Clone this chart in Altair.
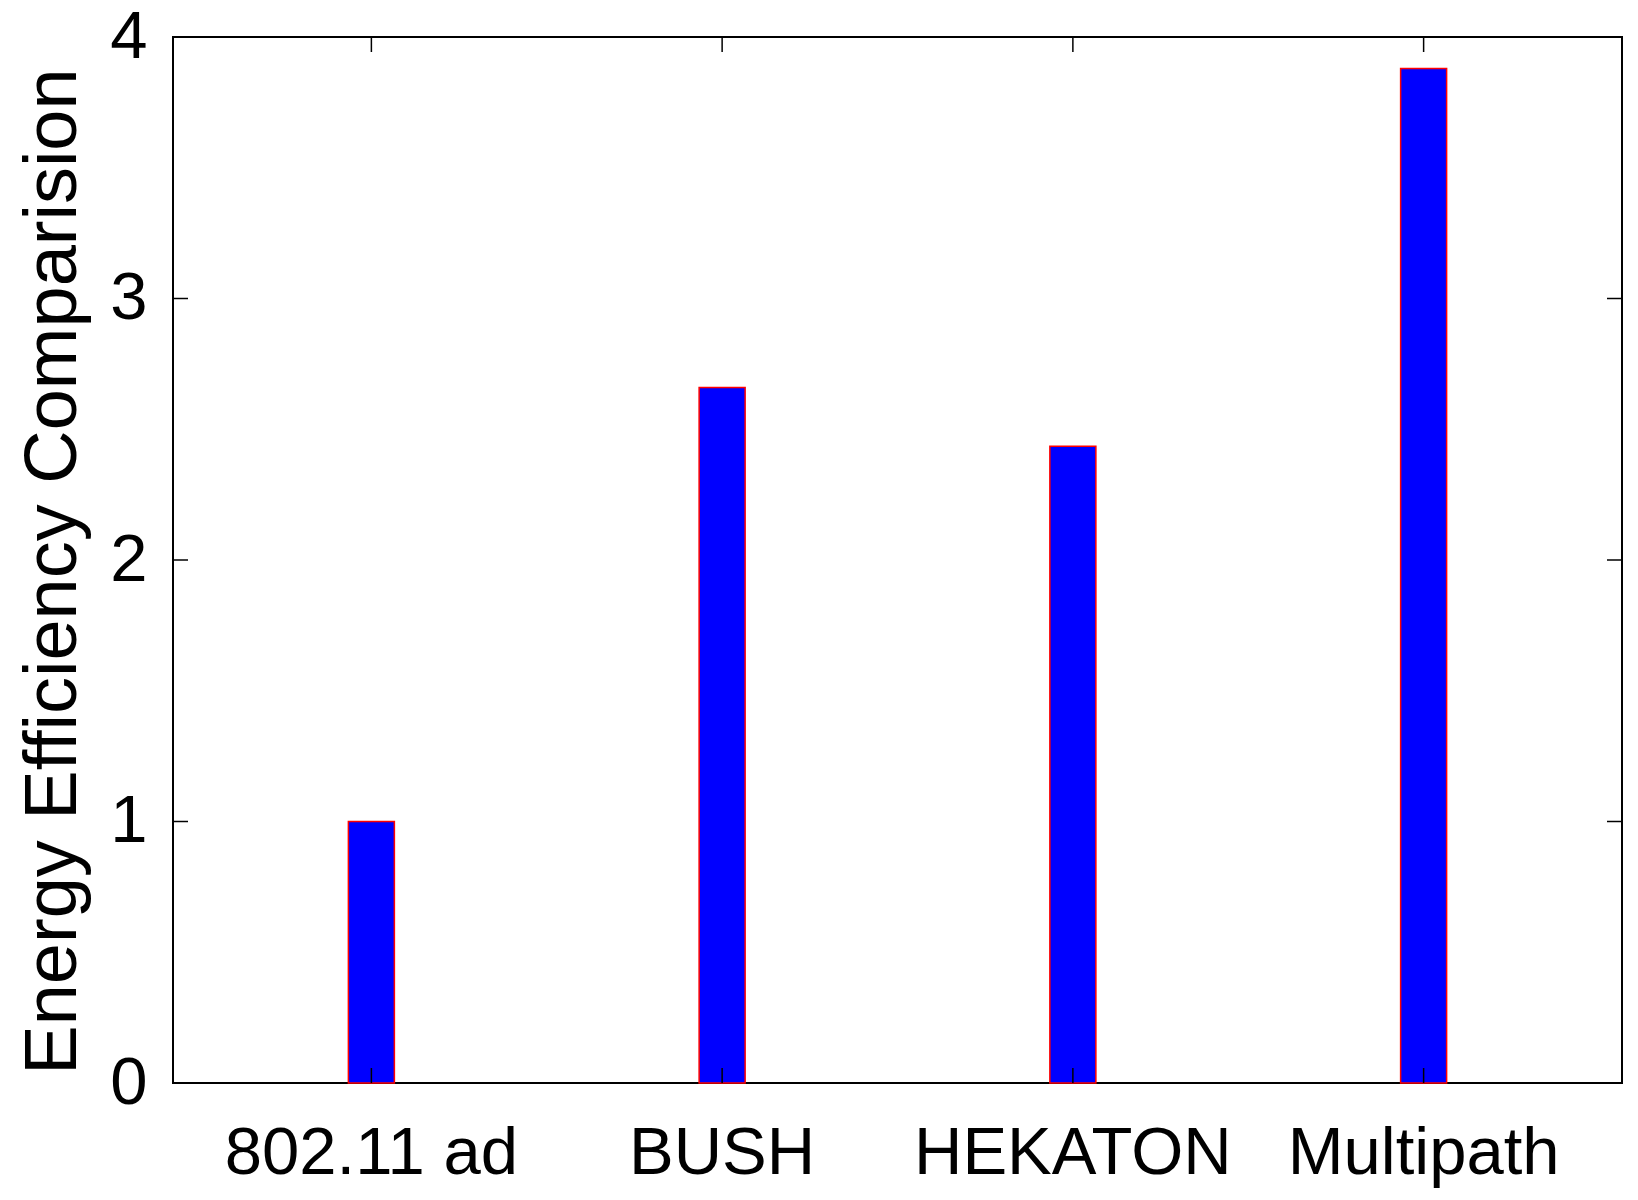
import altair as alt
import pandas as pd

categories = ["802.11 ad", "BUSH", "HEKATON", "Multipath"]
values = [1.0, 2.66, 2.435, 3.88]
y_ticks = [0, 1, 2, 3, 4]

df = pd.DataFrame({"cat": categories, "value": values})
tick_df = pd.DataFrame({"value": y_ticks})

FONT = "Liberation Sans"
W, H = 1449, 1046

xscale = alt.Scale(domain=categories, paddingInner=0.8688, paddingOuter=0.5)
yscale = alt.Scale(domain=[0, 4], nice=False, zero=True)

x_axis = alt.Axis(title=None, labelAngle=0, ticks=False, tickSize=0,
                  domain=False, grid=False, labelFont=FONT,
                  labelFontSize=67, labelColor="black", labelLimit=1000,
                  labelOverlap=False,
                  labelPadding=90, labelBaseline="alphabetic")
y_axis = alt.Axis(title="Energy Efficiency Comparision", values=y_ticks,
                  ticks=False, tickSize=0, domain=False, grid=False,
                  labelFont=FONT, labelFontSize=67, labelColor="black",
                  labelPadding=26, labelBaseline="middle", labelOverlap=False,
                  titleFont=FONT, titleFontSize=74, titleColor="black",
                  titleFontWeight="normal", titleAngle=270, titleLimit=2000,
                  titleX=-98, titleY=534, titleAlign="center",
                  titleBaseline="alphabetic")

bars = alt.Chart(df).mark_bar(
    fill="#0000ff", stroke="#ff0000", strokeWidth=1.5
).encode(
    x=alt.X("cat:N", scale=xscale, sort=categories, axis=x_axis),
    y=alt.Y("value:Q", scale=yscale, axis=y_axis),
)

xt_bottom = alt.Chart(df).mark_rule(color="black", strokeWidth=1.5).encode(
    x=alt.X("cat:N", scale=xscale, sort=categories, bandPosition=0.5, axis=x_axis),
    y=alt.value(H), y2=alt.value(H - 15),
)
xt_top = alt.Chart(df).mark_rule(color="black", strokeWidth=1.5).encode(
    x=alt.X("cat:N", scale=xscale, sort=categories, bandPosition=0.5, axis=x_axis),
    y=alt.value(0), y2=alt.value(15),
)
yt_left = alt.Chart(tick_df).mark_rule(color="black", strokeWidth=1.5).encode(
    y=alt.Y("value:Q", scale=yscale, axis=y_axis),
    x=alt.value(0), x2=alt.value(15),
)
yt_right = alt.Chart(tick_df).mark_rule(color="black", strokeWidth=1.5).encode(
    y=alt.Y("value:Q", scale=yscale, axis=y_axis),
    x=alt.value(W - 15), x2=alt.value(W),
)

chart = alt.layer(bars, xt_bottom, xt_top, yt_left, yt_right).properties(
    width=W, height=H,
    autosize=alt.AutoSizeParams(type="none"),
    padding={"left": 165, "top": 29, "right": 8, "bottom": 106},
).configure(
    background="white"
).configure_view(
    stroke="black", strokeWidth=2
)

chart.save("out.html", embed_options={"renderer": "svg", "actions": False})
